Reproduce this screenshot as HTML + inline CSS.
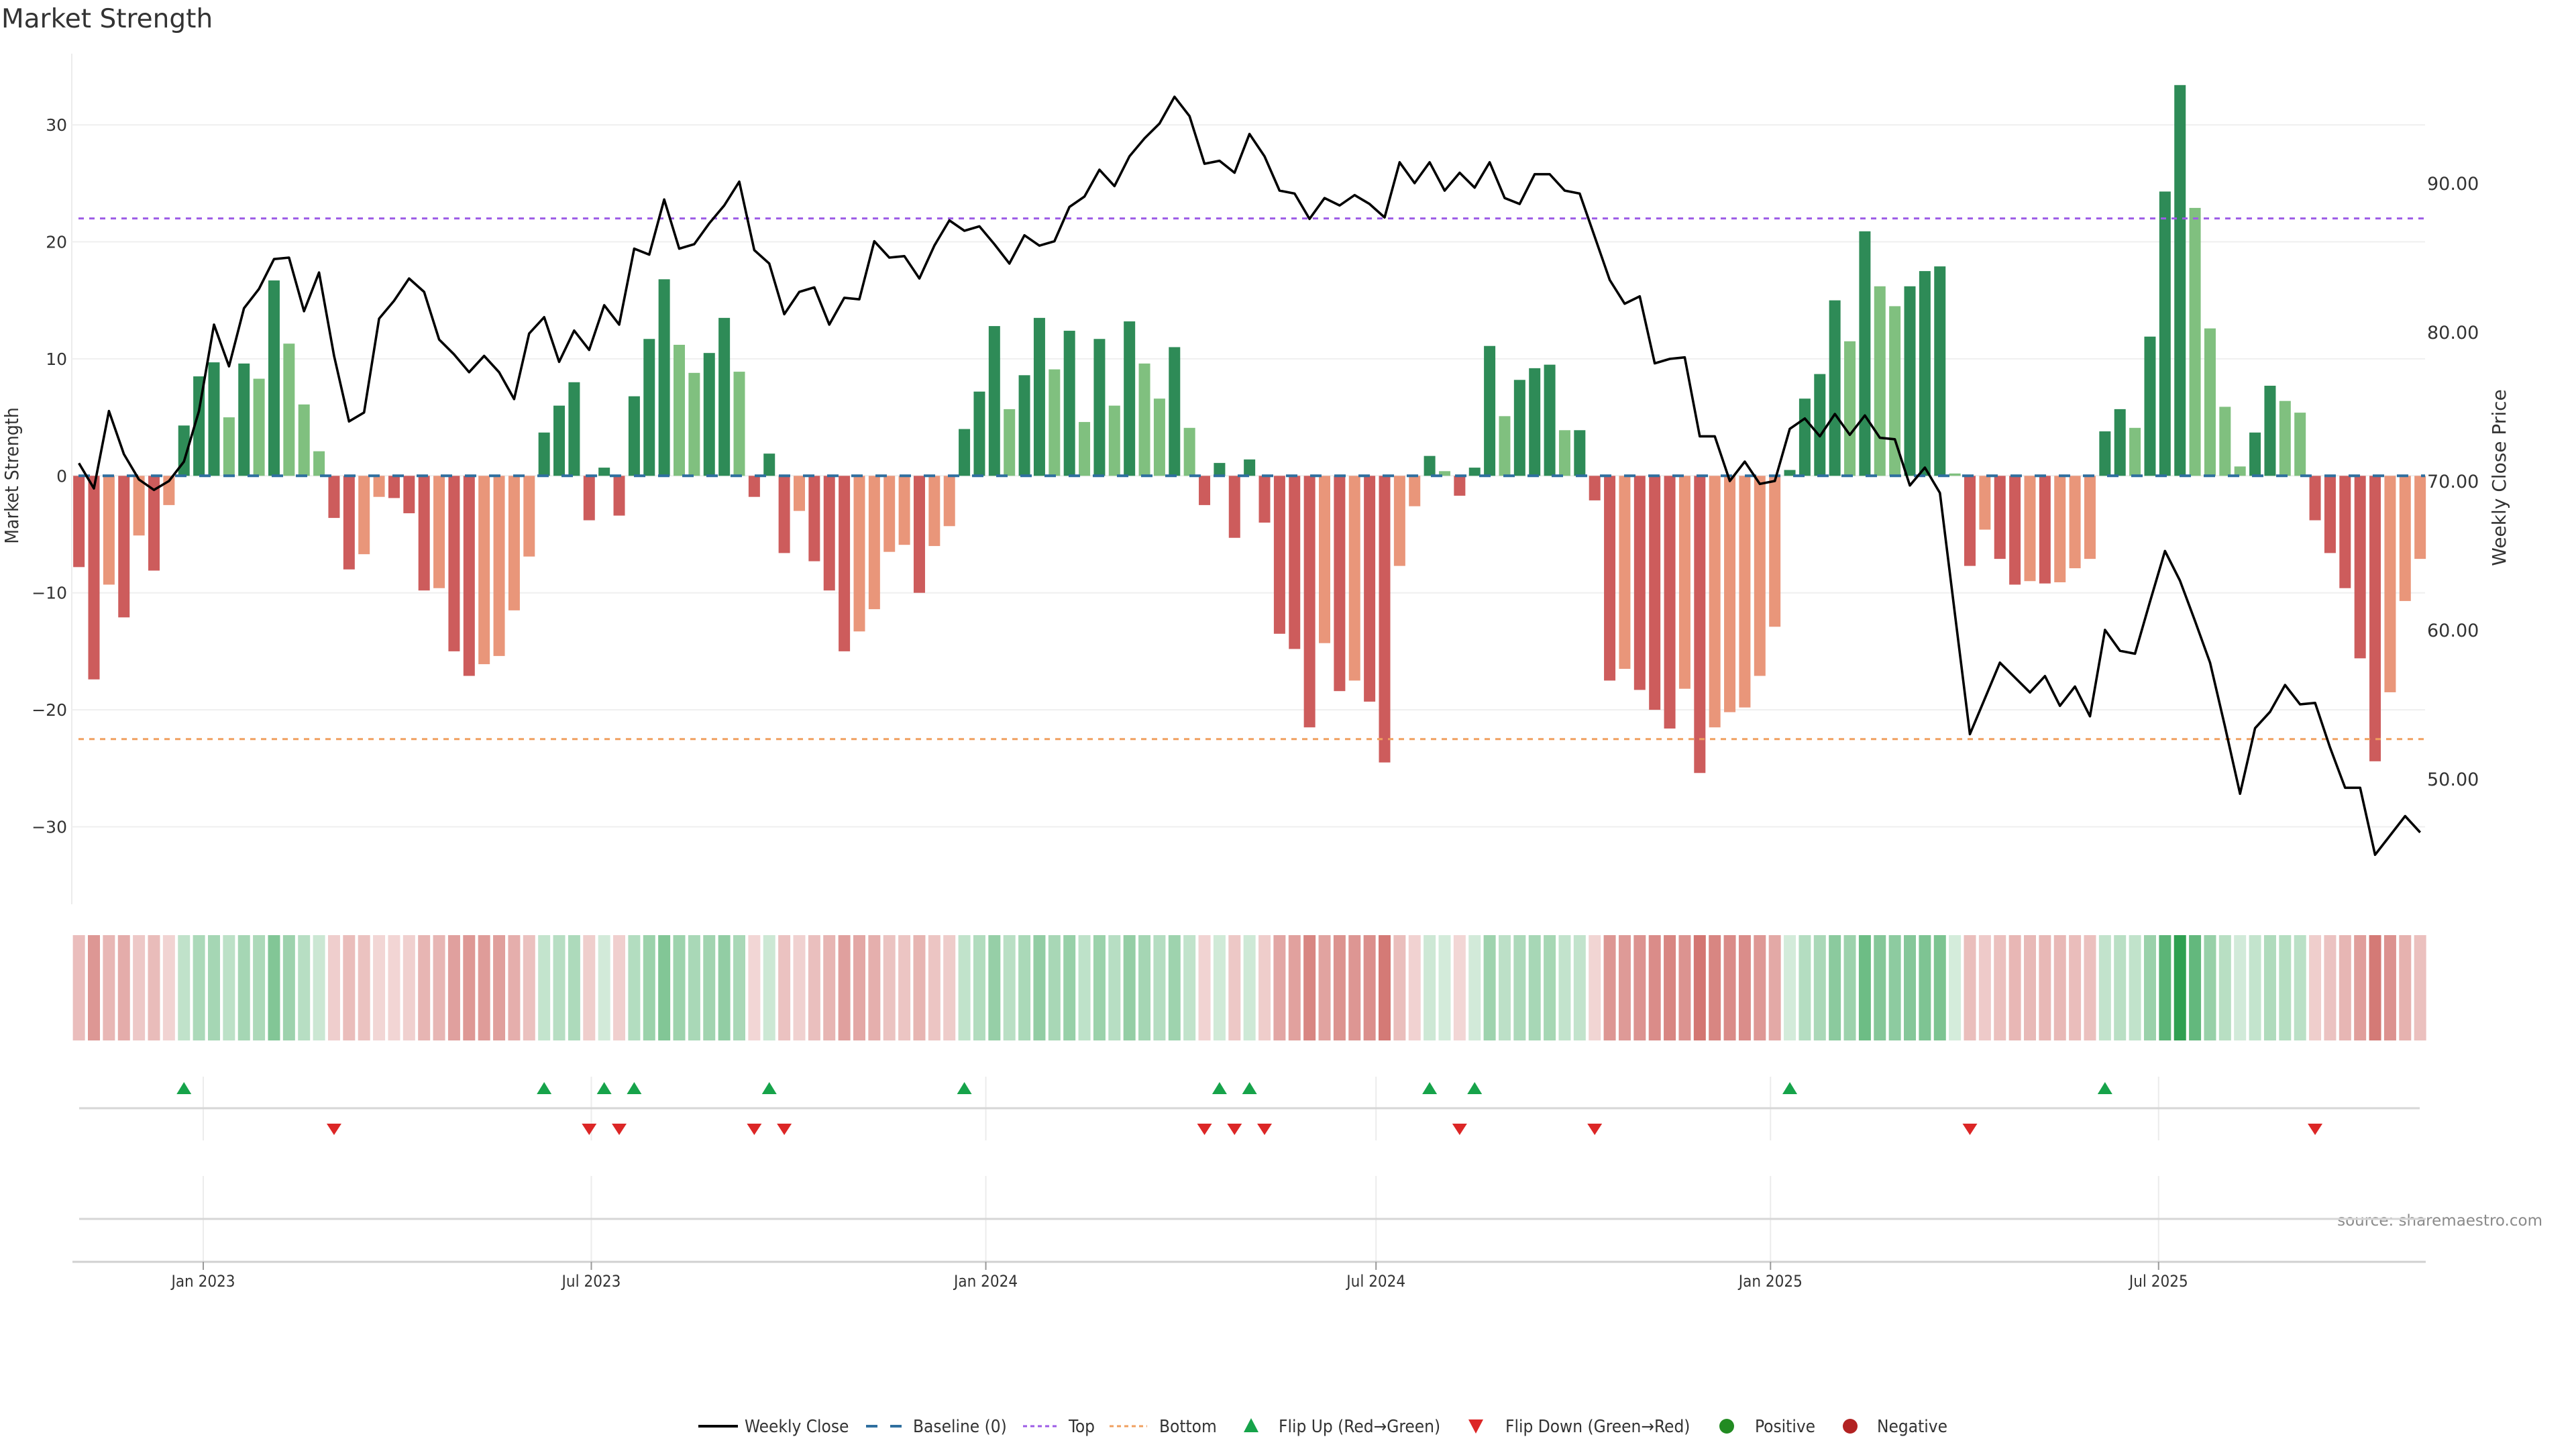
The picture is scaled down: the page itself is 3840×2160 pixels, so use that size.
<!DOCTYPE html>
<html><head><meta charset="utf-8"><title>Market Strength</title>
<style>
html,body{margin:0;padding:0;background:#fff;}
svg{display:block;}
</style></head>
<body>
<svg id="chart" xmlns="http://www.w3.org/2000/svg" width="3840" height="2160" viewBox="0 0 3840 2160">
<rect x="0" y="0" width="3840" height="2160" fill="#fff"/>
<text x="2" y="41" font-family="DejaVu Sans, Liberation Sans, sans-serif" font-size="39" fill="#333">Market Strength</text>
<text transform="translate(27,709) rotate(-90)" text-anchor="middle" font-family="DejaVu Sans Condensed, Liberation Sans Narrow, Liberation Sans, sans-serif" font-size="28" fill="#333">Market Strength</text>
<text transform="translate(3735,712) rotate(-90)" text-anchor="middle" font-family="DejaVu Sans, Liberation Sans, sans-serif" font-size="28" fill="#333">Weekly Close Price</text>
<text x="3790" y="1827" text-anchor="end" font-family="DejaVu Sans, Liberation Sans, sans-serif" font-size="23" fill="#8a8a8a">source: sharemaestro.com</text>
<g id="grid"></g>
<g id="bars"></g>
<g id="refs"></g>
<g id="line"></g>
<g id="heat"></g>
<g id="flips"></g>
<g id="xaxis"></g>
<g id="legend"></g>
</svg>
<script>
const strength = [-7.8,-17.4,-9.3,-12.1,-5.1,-8.1,-2.5,4.3,8.5,9.7,5.0,9.6,8.3,16.7,11.3,6.1,2.1,-3.6,-8.0,-6.7,
-1.8,-1.9,-3.2,-9.8,-9.6,-15.0,-17.1,-16.1,-15.4,-11.5,-6.9,3.7,6.0,8.0,-3.8,0.7,-3.4,6.8,11.7,16.8,
11.2,8.8,10.5,13.5,8.9,-1.8,1.9,-6.6,-3.0,-7.3,-9.8,-15.0,-13.3,-11.4,-6.5,-5.9,-10.0,-6.0,-4.3,4.0,
7.2,12.8,5.7,8.6,13.5,9.1,12.4,4.6,11.7,6.0,13.2,9.6,6.6,11.0,4.1,-2.5,1.1,-5.3,1.4,-4.0,
-13.5,-14.8,-21.5,-14.3,-18.4,-17.5,-19.3,-24.5,-7.7,-2.6,1.7,0.4,-1.7,0.7,11.1,5.1,8.2,9.2,9.5,3.9,
3.9,-2.1,-17.5,-16.5,-18.3,-20.0,-21.6,-18.2,-25.4,-21.5,-20.2,-19.8,-17.1,-12.9,0.5,6.6,8.7,15.0,11.5,20.9,
16.2,14.5,16.2,17.5,17.9,0.2,-7.7,-4.6,-7.1,-9.3,-9.0,-9.2,-9.1,-7.9,-7.1,3.8,5.7,4.1,11.9,24.3,
33.4,22.9,12.6,5.9,0.8,3.7,7.7,6.4,5.4,-3.8,-6.6,-9.6,-15.6,-24.4,-18.5,-10.7,-7.1];
const weeklyClose = [71.2,69.5,74.7,71.8,70.1,69.4,70.0,71.3,74.7,80.5,77.7,81.6,82.9,84.9,85.0,81.4,84.0,78.4,74.0,74.6,
80.9,82.1,83.6,82.7,79.5,78.5,77.3,78.4,77.3,75.5,79.9,81.0,78.0,80.1,78.8,81.8,80.5,85.6,85.2,88.9,
85.6,85.9,87.3,88.5,90.1,85.5,84.6,81.2,82.7,83.0,80.5,82.3,82.2,86.1,85.0,85.1,83.6,85.8,87.5,86.8,
87.1,85.9,84.6,86.5,85.8,86.1,88.4,89.1,90.9,89.8,91.8,93.0,94.0,95.8,94.5,91.3,91.5,90.7,93.3,91.8,
89.5,89.3,87.6,89.0,88.5,89.2,88.6,87.7,91.4,90.0,91.4,89.5,90.7,89.7,91.4,89.0,88.6,90.6,90.6,89.5,
89.3,86.4,83.5,81.9,82.4,77.9,78.2,78.3,73.0,73.0,70.0,71.3,69.8,70.0,73.5,74.2,73.0,74.5,73.1,74.4,
72.9,72.8,69.7,70.9,69.2,61.1,53.0,55.4,57.8,56.8,55.8,56.9,54.9,56.2,54.2,60.0,58.6,58.4,61.9,65.3,
63.3,60.6,57.8,53.5,49.0,53.4,54.5,56.3,55.0,55.1,52.1,49.4,49.4,44.9,46.2,47.5,46.4];
const leftTicks = [30,20,10,0,-10,-20,-30];
const leftTickLabels = ["30","20","10","0","\u221210","\u221220","\u221230"];
const rightTicks = [90,80,70,60,50];
const rightTickLabels = ["90.00","80.00","70.00","60.00","50.00"];
const xTickDates = ["2023-01-01","2023-07-01","2024-01-01","2024-07-01","2025-01-01","2025-07-01"];
const xTickLabels = ["Jan 2023","Jul 2023","Jan 2024","Jul 2024","Jan 2025","Jul 2025"];
const topLevel = 22.0;
const bottomLevel = -22.5;
const startDate = "2022-11-04";

const NS = "http://www.w3.org/2000/svg";
const DAY = 86400000;
const t0 = Date.parse("2023-01-01T00:00:00Z");
function xDate(ms){ return 303 + 3.196 * (ms - t0) / DAY; }
const s0 = Date.parse(startDate + "T00:00:00Z");
function xIdx(i){ return xDate(s0 + i * 7 * DAY); }
function yL(v){ return 709.3 - 17.44 * v; }
function yR(p){ return 717 - 22.2 * (p - 70); }
const X0 = 107, X1 = 3615;
function mk(tag, attrs, parent){
  const el = document.createElementNS(NS, tag);
  for (const k in attrs) el.setAttribute(k, attrs[k]);
  parent.appendChild(el);
  return el;
}
const gGrid = document.getElementById('grid');
const gBars = document.getElementById('bars');
const gRefs = document.getElementById('refs');
const gLine = document.getElementById('line');
const gHeat = document.getElementById('heat');
const gFlips = document.getElementById('flips');
const gX = document.getElementById('xaxis');
const gLeg = document.getElementById('legend');

// main panel grid + spine
let sp = mk('line', {x1:X0, x2:X0, y1:80, y2:1348, stroke:'#ececec', 'stroke-width':2}, gGrid);


leftTicks.forEach((v, k) => {
  const gl = mk('line', {x1:X0, x2:X1, y1:yL(v), y2:yL(v), stroke:'#efefef', 'stroke-width':2}, gGrid);
  
  
  const t = mk('text', {x:100, y:yL(v) + 9, 'text-anchor':'end', 'font-family':'DejaVu Sans, Liberation Sans, sans-serif', 'font-size':25, fill:'#333'}, gGrid);
  t.textContent = leftTickLabels[k];
  
  
});
rightTicks.forEach((p, k) => {
  const t = mk('text', {x:3618, y:yR(p) + 10, 'font-family':'DejaVu Sans, Liberation Sans, sans-serif', 'font-size':27, fill:'#333'}, gGrid);
  t.textContent = rightTickLabels[k];
  
  
});

// bars
function barColor(i){
  const v = strength[i];
  const prev = i > 0 ? strength[i - 1] : 0;
  const same = (v >= 0) === (prev >= 0) && i > 0;
  const growing = !same || Math.abs(v) >= Math.abs(prev);
  if (v >= 0) return growing ? '#2e8b57' : '#80c07f';
  return growing ? '#cd5c5c' : '#e9967a';
}
strength.forEach((v, i) => {
  const x = xIdx(i);
  const y1 = yL(Math.max(v, 0)), y2 = yL(Math.min(v, 0));
  const r = mk('rect', {x:x - 8.5, y:y1, width:17, height:Math.max(y2 - y1, 0.5), fill:barColor(i)}, gBars);
  
  
});

// reference lines
let bl = mk('line', {x1:X0 + 10, x2:X1, y1:yL(0), y2:yL(0), stroke:'#2f6f9f', 'stroke-width':4, 'stroke-dasharray':'17 19'}, gRefs);


let tl = mk('line', {x1:X0 + 10, x2:X1, y1:yL(topLevel), y2:yL(topLevel), stroke:'#9d5ce6', 'stroke-width':3, 'stroke-dasharray':'8 8'}, gRefs);


let btl = mk('line', {x1:X0 + 10, x2:X1, y1:yL(bottomLevel), y2:yL(bottomLevel), stroke:'#f0a060', 'stroke-width':3, 'stroke-dasharray':'8 8'}, gRefs);



// price line
const pts = weeklyClose.map((p, i) => xIdx(i).toFixed(1) + ',' + yR(p).toFixed(1)).join(' ');
const pl = mk('polyline', {points:pts, fill:'none', stroke:'#000', 'stroke-width':3.6, 'stroke-linejoin':'round'}, gLine);



// heat strip
function heatColor(v){
  const a = Math.min(1, 0.2 + Math.abs(v) / 42);
  const base = v >= 0 ? [46, 160, 80] : [200, 85, 80];
  const c = base.map(b => Math.round(255 - (255 - b) * a));
  return 'rgb(' + c.join(',') + ')';
}
strength.forEach((v, i) => {
  const r = mk('rect', {x:xIdx(i) - 9, y:1394, width:18, height:157, fill:heatColor(v)}, gHeat);
  
  
});

// marker panels
xTickDates.forEach(d => {
  const x = xDate(Date.parse(d + 'T00:00:00Z'));
  const a = mk('line', {x1:x, x2:x, y1:1605, y2:1700, stroke:'#ececec', 'stroke-width':2}, gFlips);
  
  
  const b = mk('line', {x1:x, x2:x, y1:1753, y2:1881, stroke:'#ececec', 'stroke-width':2}, gFlips);
  
  
});
let fl = mk('line', {x1:118, x2:3607, y1:1652, y2:1652, stroke:'#d6d6d6', 'stroke-width':3}, gFlips);


let ll = mk('line', {x1:118, x2:3616, y1:1817, y2:1817, stroke:'#d6d6d6', 'stroke-width':3}, gFlips);


strength.forEach((v, i) => {
  if (i === 0) return;
  const prev = strength[i - 1];
  const x = xIdx(i);
  if (prev < 0 && v >= 0) {
    const tri = mk('polygon', {points:(x - 11) + ',1631 ' + (x + 11) + ',1631 ' + x + ',1613', fill:'#16a34a'}, gFlips);
    
    
  } else if (prev >= 0 && v < 0) {
    const tri = mk('polygon', {points:(x - 11) + ',1675 ' + (x + 11) + ',1675 ' + x + ',1692', fill:'#dc2626'}, gFlips);
    
    
  }
});

// x axis
let xa = mk('line', {x1:108, x2:3616, y1:1881, y2:1881, stroke:'#d0d0d0', 'stroke-width':3}, gX);


xTickDates.forEach((d, k) => {
  const x = xDate(Date.parse(d + 'T00:00:00Z'));
  const tk = mk('line', {x1:x, x2:x, y1:1881, y2:1893, stroke:'#999', 'stroke-width':2}, gX);
  
  
  const t = mk('text', {x:x, y:1918, 'text-anchor':'middle', 'font-family':'DejaVu Sans Condensed, Liberation Sans Narrow, Liberation Sans, sans-serif', 'font-size':24, fill:'#333'}, gX);
  t.textContent = xTickLabels[k];
  
  
});

// legend
const LY = 2126;
function legText(x, s){
  const t = mk('text', {x:x, y:LY + 9, 'font-family':'DejaVu Sans Condensed, Liberation Sans Narrow, Liberation Sans, sans-serif', 'font-size':26, fill:'#333'}, gLeg);
  t.textContent = s;
  
  
}
let e;
e = mk('line', {x1:1041, x2:1100, y1:LY, y2:LY, stroke:'#000', 'stroke-width':4}, gLeg);


legText(1110, 'Weekly Close');
e = mk('line', {x1:1291, x2:1344, y1:LY, y2:LY, stroke:'#2f6f9f', 'stroke-width':4, 'stroke-dasharray':'17 19'}, gLeg);


legText(1361, 'Baseline (0)');
e = mk('line', {x1:1525, x2:1578, y1:LY, y2:LY, stroke:'#9d5ce6', 'stroke-width':3, 'stroke-dasharray':'6 5'}, gLeg);


legText(1593, 'Top');
e = mk('line', {x1:1654, x2:1710, y1:LY, y2:LY, stroke:'#f0a060', 'stroke-width':3, 'stroke-dasharray':'6 5'}, gLeg);


legText(1728, 'Bottom');
e = mk('polygon', {points:'1854,2135 1876,2135 1865,2114', fill:'#16a34a'}, gLeg);


legText(1906, 'Flip Up (Red\u2192Green)');
e = mk('polygon', {points:'2189,2116 2211,2116 2200,2137', fill:'#dc2626'}, gLeg);


legText(2244, 'Flip Down (Green\u2192Red)');
e = mk('circle', {cx:2574, cy:LY, r:11, fill:'#228b22'}, gLeg);


legText(2616, 'Positive');
e = mk('circle', {cx:2758, cy:LY, r:11, fill:'#b22222'}, gLeg);


legText(2798, 'Negative');
</script>
</body></html>
